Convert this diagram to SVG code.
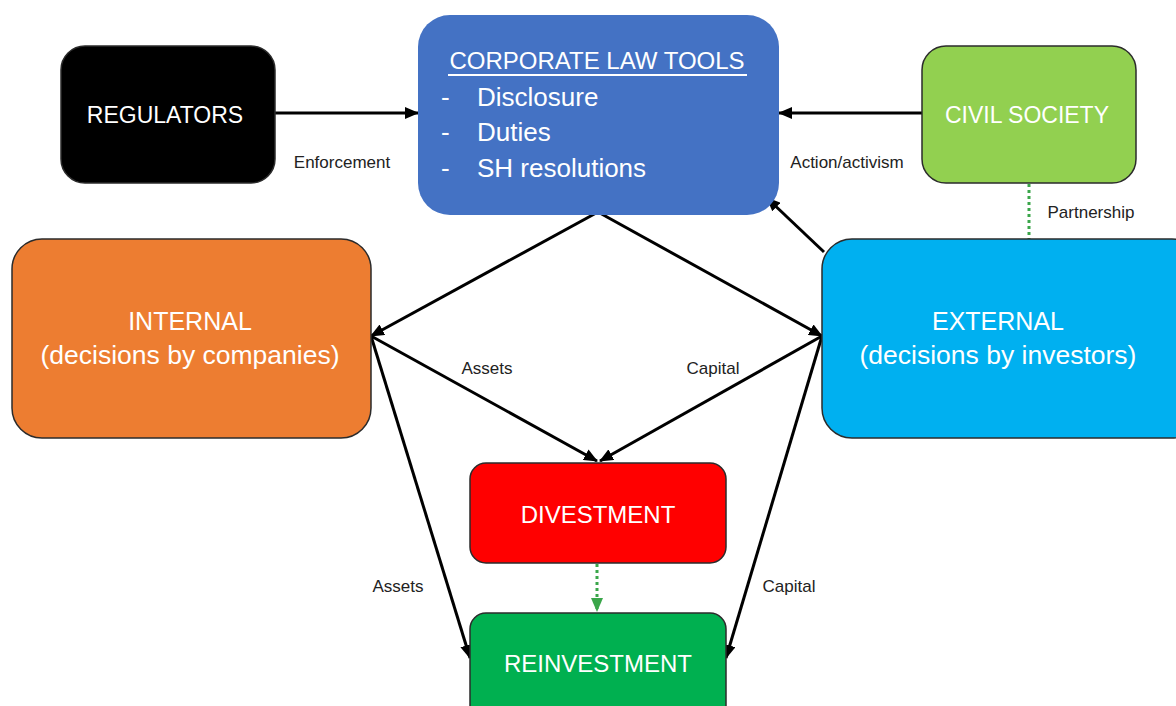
<svg xmlns="http://www.w3.org/2000/svg" width="1176" height="706" viewBox="0 0 1176 706">
<style>
.node{stroke:#2b2b2b;stroke-width:1.5}
.t{font-family:"Liberation Sans",Arial,sans-serif;fill:#fff;text-anchor:middle}
.big{font-size:24px}
.lbl{font-family:"Liberation Sans",Arial,sans-serif;font-size:17px;fill:#222;text-anchor:middle}
.c{stroke:#000;stroke-width:3;fill:none;marker-end:url(#ah)}
.d{stroke:#3aa64a;stroke-width:3;fill:none;stroke-dasharray:3 3}
</style>
<defs>
<marker id="ah" markerUnits="userSpaceOnUse" markerWidth="14" markerHeight="12" viewBox="0 0 14 12" refX="13" refY="6" orient="auto">
<path d="M0,0 L14,6 L0,12 z" fill="#000"/>
</marker>
<marker id="gh" markerUnits="userSpaceOnUse" markerWidth="14" markerHeight="12" viewBox="0 0 14 12" refX="13" refY="6" orient="auto">
<path d="M0,0 L14,6 L0,12 z" fill="#3aa64a"/>
</marker>
</defs>
<rect width="1176" height="706" fill="#fff"/>

<g id="connectors">
<line class="c" x1="275" y1="113" x2="418" y2="113"/>
<line class="c" x1="922" y1="113" x2="779" y2="113"/>
<line class="c" x1="824" y1="252" x2="767" y2="198"/>
<line class="d" x1="1029" y1="184" x2="1029" y2="239"/>
<line class="c" x1="598" y1="212" x2="371" y2="336"/>
<line class="c" x1="598" y1="212" x2="822" y2="336"/>
<line class="c" x1="371" y1="336" x2="597" y2="461"/>
<line class="c" x1="822" y1="336" x2="600" y2="461"/>
<line class="c" x1="371" y1="336" x2="470" y2="658"/>
<line class="c" x1="822" y1="336" x2="726" y2="658"/>
<line class="d" x1="597" y1="564" x2="597" y2="611" style="marker-end:url(#gh)"/>
<text class="lbl" x="342" y="168">Enforcement</text>
<text class="lbl" x="847" y="168">Action/activism</text>
<text class="lbl" x="1091" y="218">Partnership</text>
<text class="lbl" x="487" y="374">Assets</text>
<text class="lbl" x="713" y="374">Capital</text>
<text class="lbl" x="398" y="592">Assets</text>
<text class="lbl" x="789" y="592">Capital</text>
</g>

<g id="regulators">
<rect class="node" x="61" y="46" width="214" height="137" rx="24" fill="#000"/>
<text class="t" x="165" y="123" font-size="23">REGULATORS</text>
</g>

<g id="corporate-law-tools">
<rect x="418" y="15" width="361" height="200" rx="32" fill="#4472C4"/>
<text class="t big" x="597" y="69">CORPORATE LAW TOOLS</text>
<line x1="448" y1="75" x2="747" y2="75" stroke="#fff" stroke-width="2"/>
<g class="t" font-size="26" style="text-anchor:start">
<text x="441" y="106">-</text><text x="477" y="106">Disclosure</text>
<text x="441" y="141">-</text><text x="477" y="141">Duties</text>
<text x="441" y="177">-</text><text x="477" y="177">SH resolutions</text>
</g>
</g>

<g id="civil-society">
<rect class="node" x="922" y="46" width="214" height="137" rx="24" fill="#92D050"/>
<text class="t" x="1027" y="123" font-size="23">CIVIL SOCIETY</text>
</g>

<g id="internal">
<rect class="node" x="12" y="239" width="359" height="199" rx="30" fill="#ED7D31"/>
<text class="t" x="190" y="330" font-size="25">INTERNAL</text>
<text class="t" x="190" y="364" font-size="26.5">(decisions by companies)</text>
</g>

<g id="external">
<rect class="node" x="822" y="239" width="380" height="199" rx="30" fill="#00B0F0"/>
<text class="t" x="998" y="330" font-size="25">EXTERNAL</text>
<text class="t" x="998" y="364" font-size="26.5">(decisions by investors)</text>
</g>

<g id="divestment">
<rect class="node" x="470" y="463" width="256" height="100" rx="16" fill="#FF0000"/>
<text class="t big" x="598" y="523">DIVESTMENT</text>
</g>

<g id="reinvestment">
<rect class="node" x="470" y="613" width="256" height="110" rx="16" fill="#00B050"/>
<text class="t big" x="598" y="672">REINVESTMENT</text>
</g>
</svg>
